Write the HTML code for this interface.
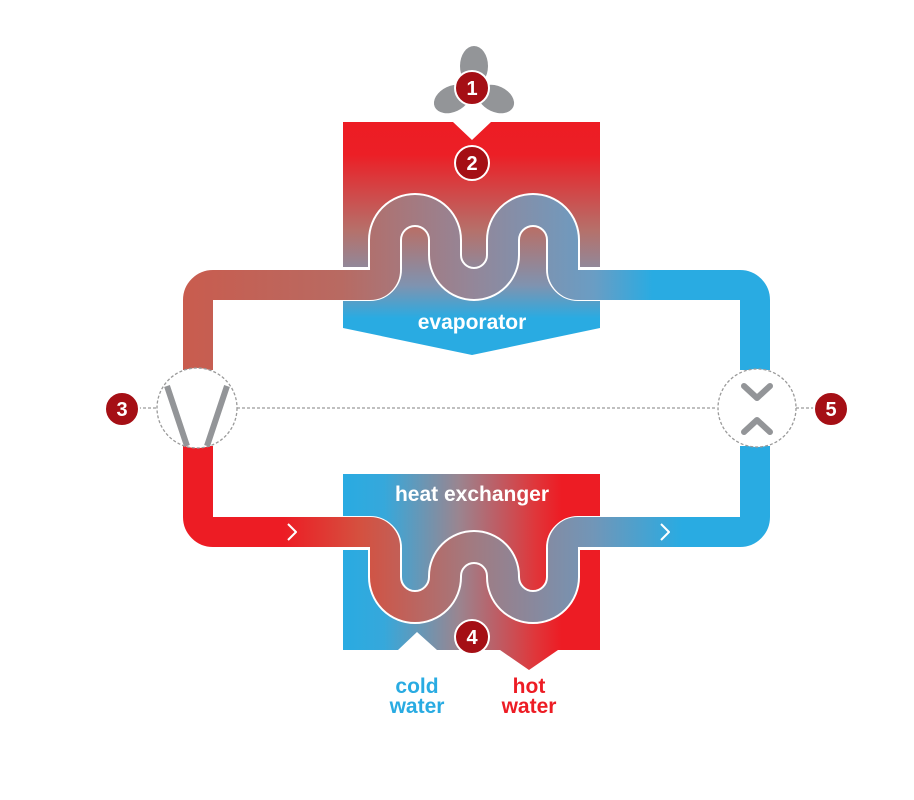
<!DOCTYPE html>
<html><head><meta charset="utf-8"><style>
html,body{margin:0;padding:0;background:#fff;}
svg{display:block;}
text{font-family:"Liberation Sans",Arial,sans-serif;font-weight:bold;}
</style></head><body>
<svg width="914" height="800" viewBox="0 0 914 800" xmlns="http://www.w3.org/2000/svg">
<defs>
<linearGradient id="evap" x1="0" y1="122" x2="0" y2="340" gradientUnits="userSpaceOnUse">
<stop offset="0" stop-color="#ed1c24"/><stop offset="0.15" stop-color="#ec1f26"/>
<stop offset="0.5" stop-color="#b5716b"/><stop offset="0.75" stop-color="#7f93b0"/>
<stop offset="0.9" stop-color="#29abe2"/><stop offset="1" stop-color="#29abe2"/>
</linearGradient>
<linearGradient id="hx" x1="343" y1="0" x2="600" y2="0" gradientUnits="userSpaceOnUse">
<stop offset="0" stop-color="#29abe2"/><stop offset="0.16" stop-color="#36a8db"/>
<stop offset="0.45" stop-color="#9a8590"/><stop offset="0.75" stop-color="#e0363a"/>
<stop offset="0.85" stop-color="#ed1c24"/><stop offset="1" stop-color="#ed1c24"/>
</linearGradient>
<linearGradient id="topPipe" x1="183" y1="0" x2="770" y2="0" gradientUnits="userSpaceOnUse">
<stop offset="0" stop-color="#c95c4e"/><stop offset="0.27" stop-color="#b86a62"/>
<stop offset="0.49" stop-color="#948698"/><stop offset="0.7" stop-color="#6a9dc4"/>
<stop offset="0.8" stop-color="#29abe2"/><stop offset="1" stop-color="#29abe2"/>
</linearGradient>
<linearGradient id="botPipe" x1="183" y1="0" x2="770" y2="0" gradientUnits="userSpaceOnUse">
<stop offset="0" stop-color="#ed1c24"/><stop offset="0.17" stop-color="#ed1c24"/>
<stop offset="0.3" stop-color="#d5503f"/><stop offset="0.49" stop-color="#a27a80"/>
<stop offset="0.7" stop-color="#7196b8"/><stop offset="0.85" stop-color="#29abe2"/>
<stop offset="1" stop-color="#29abe2"/>
</linearGradient>
<clipPath id="boxclip"><rect x="343" y="100" width="257" height="600"/></clipPath>
</defs>

<!-- fan -->
<g fill="#939598">
<ellipse cx="474" cy="66" rx="14" ry="20"/>
<ellipse cx="452" cy="99" rx="19" ry="13" transform="rotate(-25 452 99)"/>
<ellipse cx="496" cy="99" rx="19" ry="13" transform="rotate(25 496 99)"/>
</g>

<!-- evaporator box -->
<path d="M343 122 H453 L472 140 L491 122 H600 V328 L472 355 L343 328 Z" fill="url(#evap)"/>
<!-- heat exchanger box -->
<path d="M343 474 H600 V650 H558 L529 670 L500 650 H437 L417 632 L398 650 H343 Z" fill="url(#hx)"/>

<g fill="none" stroke-linejoin="round">
<g clip-path="url(#boxclip)">
<path d="M330 284 H370 A15 15 0 0 0 385 269 V240 A30 30 0 0 1 445 240 V255 A29 29 0 0 0 503 255 V240 A30 30 0 0 1 563 240 V269 A15 15 0 0 0 578 284 H620" stroke="#fff" stroke-width="34"/>
<path d="M330 533 H370 A15 15 0 0 1 385 548 V577 A30 30 0 0 0 445 577 V576 A29 29 0 0 1 503 576 V577 A30 30 0 0 0 563 577 V548 A15 15 0 0 1 578 533 H620" stroke="#fff" stroke-width="34"/>
</g>
<path d="M198 370 V300 A15 15 0 0 1 213 285 H370 A15 15 0 0 0 385 269 V240 A30 30 0 0 1 445 240 V255 A29 29 0 0 0 503 255 V240 A30 30 0 0 1 563 240 V269 A15 15 0 0 0 578 285 H740 A15 15 0 0 1 755 300 V370" stroke="url(#topPipe)" stroke-width="30"/>
<path d="M198 446 V517 A15 15 0 0 0 213 532 H370 A15 15 0 0 1 385 548 V577 A30 30 0 0 0 445 577 V576 A29 29 0 0 1 503 576 V577 A30 30 0 0 0 563 577 V548 A15 15 0 0 1 578 532 H740 A15 15 0 0 0 755 517 V446" stroke="url(#botPipe)" stroke-width="30"/>
<path d="M288 524 L296 532 L288 540 M661 524 L669 532 L661 540" stroke="#fff" stroke-width="2"/>
</g>

<!-- dashed lines -->
<g stroke="#9a9a9a" stroke-width="1.3" stroke-dasharray="3 2" fill="none">
<line x1="138" y1="408" x2="157" y2="408"/>
<line x1="237" y1="408" x2="717" y2="408"/>
<line x1="796" y1="408" x2="815" y2="408"/>
<circle cx="197" cy="408" r="40" fill="#fff"/>
<circle cx="757" cy="408" r="39" fill="#fff"/>
</g>
<g stroke="#939598" stroke-width="6" fill="none">
<line x1="167" y1="386" x2="187" y2="446"/>
<line x1="227" y1="386" x2="207" y2="446"/>
<path d="M744 386 L757 398 L770 386" stroke-linecap="round" stroke-linejoin="round"/>
<path d="M744 432 L757 420 L770 432" stroke-linecap="round" stroke-linejoin="round"/>
</g>

<!-- badges -->
<g fill="#a50f15" stroke="#fff" stroke-width="2">
<circle cx="472" cy="88" r="17"/>
<circle cx="472" cy="163" r="17"/>
<circle cx="122" cy="409" r="17"/>
<circle cx="472" cy="637" r="17"/>
<circle cx="831" cy="409" r="17"/>
</g>
<g fill="#fff" font-size="20" text-anchor="middle">
<text x="472" y="95">1</text>
<text x="472" y="170">2</text>
<text x="122" y="416">3</text>
<text x="472" y="644">4</text>
<text x="831" y="416">5</text>
</g>

<g font-size="21" text-anchor="middle">
<text x="472" y="329" fill="#fff">evaporator</text>
<text x="472" y="501" fill="#fff">heat exchanger</text>
<text x="417" y="693" fill="#29abe2">cold</text>
<text x="417" y="713" fill="#29abe2">water</text>
<text x="529" y="693" fill="#ed1c24">hot</text>
<text x="529" y="713" fill="#ed1c24">water</text>
</g>
</svg>
</body></html>
